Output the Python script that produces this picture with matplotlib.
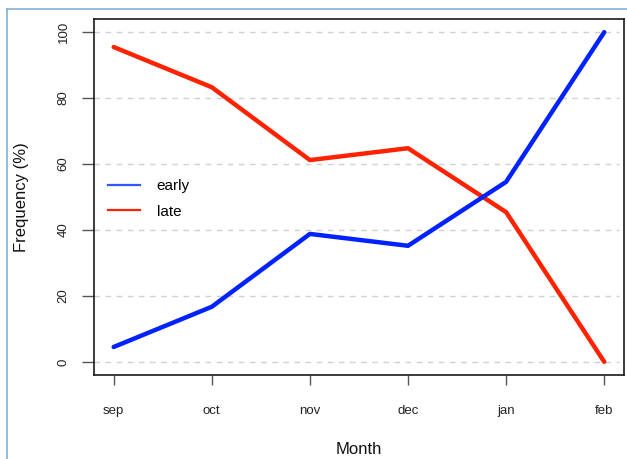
import matplotlib.pyplot as plt
from matplotlib.lines import Line2D

months = ["sep", "oct", "nov", "dec", "jan", "feb"]
early = [4.5, 16.7, 38.8, 35.2, 54.6, 100.0]
late = [95.5, 83.3, 61.2, 64.8, 45.4, 0.0]
y_ticks = [0, 20, 40, 60, 80, 100]

plt.rcParams['font.family'] = ['Liberation Sans', 'DejaVu Sans']

fig = plt.figure(figsize=(6.27, 4.59), dpi=100)
ax = fig.add_axes([0.150, 0.183, 0.845, 0.7756])

x = list(range(1, len(months) + 1))

# dashed horizontal grid
for yv in y_ticks:
    ax.axhline(yv, xmin=0, xmax=0.99, color="#d0d0d0", lw=1.0,
               ls=(0, (4, 4)), zorder=1)

ax.plot(x, late, color="#ff2200", lw=3.2, solid_capstyle="round", zorder=3)
ax.plot(x, early, color="#0022ff", lw=3.2, solid_capstyle="round", zorder=4)

ax.set_xlim(0.8, 6.2)
ax.set_ylim(-4, 104)

ax.set_xticks(x)
ax.set_xticklabels(months, fontsize=9.5, color="#222222")
ax.set_yticks(y_ticks)
ax.set_yticklabels([str(v) for v in y_ticks], fontsize=9.5, color="#222222",
                   rotation=90, va="center")
ax.tick_params(axis="x", length=7.5, width=1.0, color="#555555", pad=14)
ax.tick_params(axis="y", length=8.5, width=1.0, color="#555555", pad=9)

for sp in ax.spines.values():
    sp.set_color("#1a1a1a")
    sp.set_linewidth(1.2)

ax.set_xlabel("Month", fontsize=12, color="#111111", va="center")
ax.xaxis.set_label_coords(0.5, -0.21)
ax.set_ylabel("Frequency (%)", fontsize=12, color="#111111", va="center")
ax.yaxis.set_label_coords(-0.136, 0.5)

handles = [Line2D([], [], color="#3355ff", lw=1.6),
           Line2D([], [], color="#ff2200", lw=1.6)]
ax.legend(handles, ["early", "late"], loc="center left",
          bbox_to_anchor=(0.0, 0.495), frameon=False, fontsize=11,
          handlelength=2.1, handletextpad=1.1, labelspacing=0.75)

# light blue frame of the original screenshot
fig.add_artist(Line2D([7 / 627, 7 / 627], [0, 1 - 9 / 459],
                      transform=fig.transFigure, color="#7fb0d8", lw=1.2))
fig.add_artist(Line2D([7 / 627, 1], [1 - 9 / 459, 1 - 9 / 459],
                      transform=fig.transFigure, color="#7fb0d8", lw=1.2))

fig.savefig("out.png", dpi=100)
